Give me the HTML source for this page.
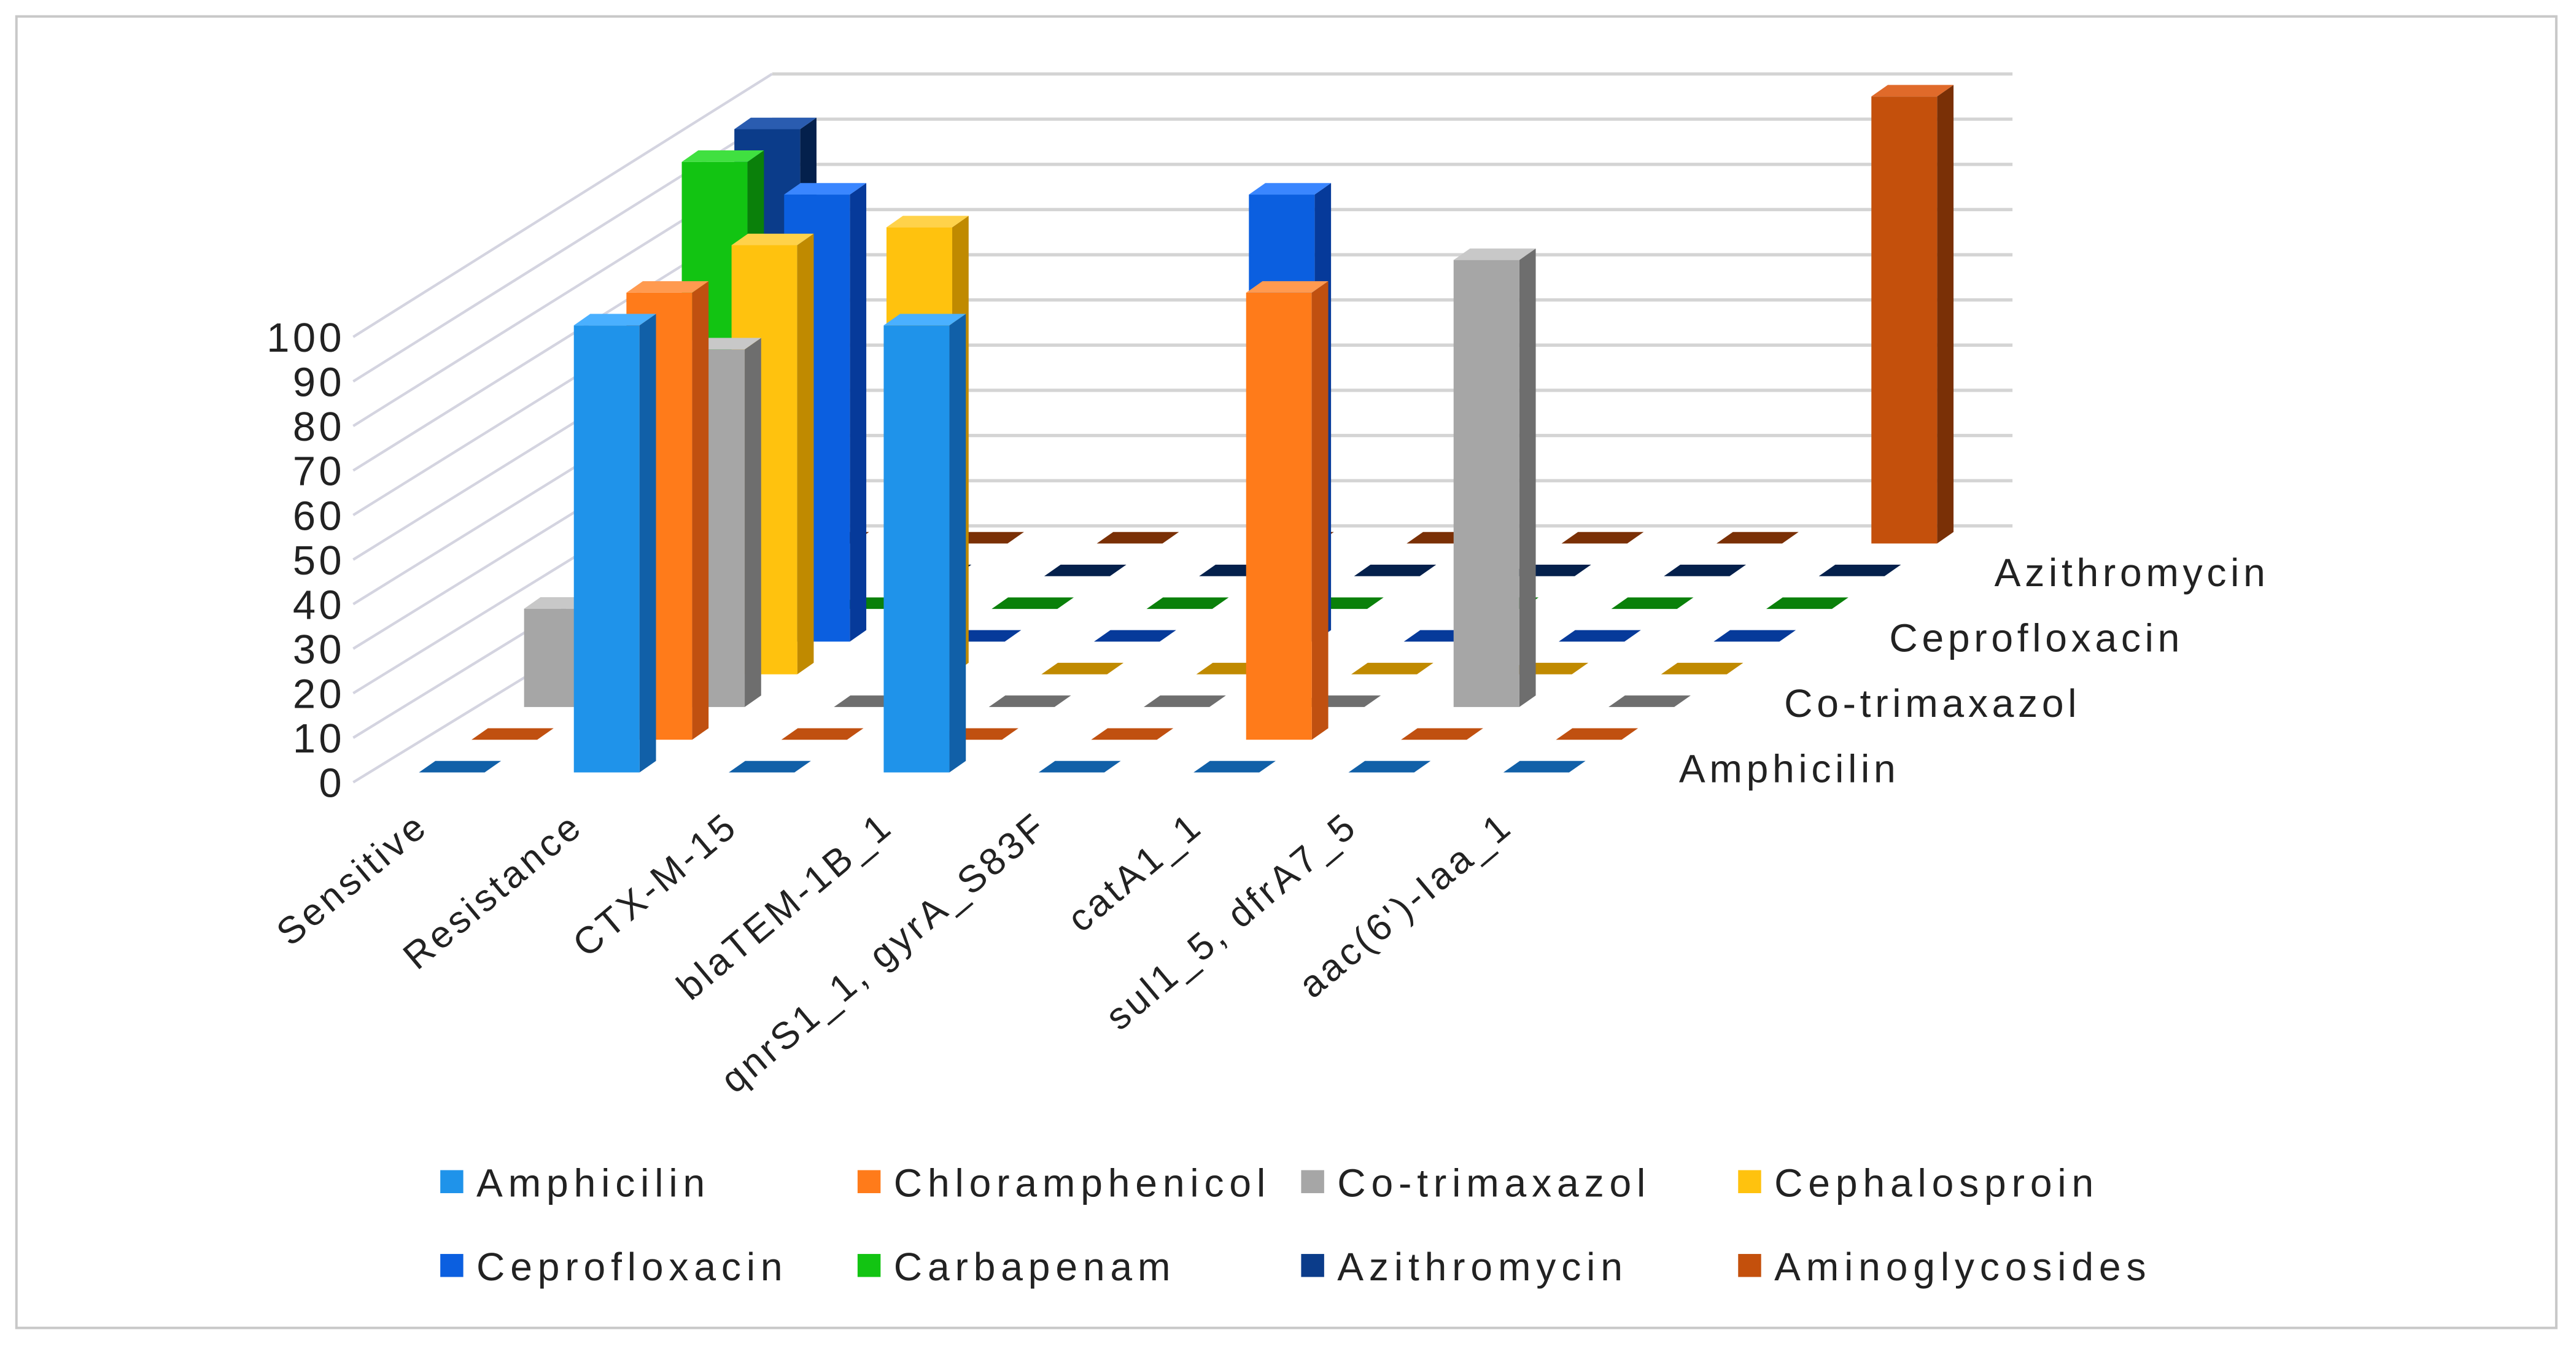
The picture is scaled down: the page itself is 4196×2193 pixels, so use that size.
<!DOCTYPE html>
<html><head><meta charset="utf-8">
<style>
html,body{margin:0;padding:0;background:#fff;}
svg{display:block;}
text{font-family:"Liberation Sans",sans-serif;fill:#222;}
</style></head>
<body>
<svg id="chart" width="4196" height="2193" viewBox="0 0 1568 819" preserveAspectRatio="none" xmlns="http://www.w3.org/2000/svg">
<rect x="10" y="10" width="1546" height="798" fill="#fff" stroke="#c8c8c8" stroke-width="1.5"/>
<g id="walls"></g>
<g id="bars"></g>
<g id="labels"></g>
<g id="legend"></g>
</svg>
<script>
const categories = ["Sensitive","Resistance","CTX-M-15","blaTEM-1B_1","qnrS1_1, gyrA_S83F","catA1_1","sul1_5, dfrA7_5","aac(6')-Iaa_1"];
const seriesNames = ["Amphicilin","Chloramphenicol","Co-trimaxazol","Cephalosproin","Ceprofloxacin","Carbapenam","Azithromycin","Aminoglycosides"];
const amphicilin = [0,100,0,100,0,0,0,0];
const chloramphenicol = [0,100,0,0,0,100,0,0];
const cotrimaxazol = [22,80,0,0,0,0,100,0];
const cephalosporin = [0,96,100,0,0,0,0,0];
const ceprofloxacin = [0,100,0,0,100,0,0,0];
const carbapenam = [100,0,0,0,0,0,0,0];
const azithromycin = [100,0,0,0,0,0,0,0];
const aminoglycosides = [0,0,0,0,0,0,0,100];
const yTicks = [0,10,20,30,40,50,60,70,80,90,100];
const depthLabels = ["Amphicilin","Co-trimaxazol","Ceprofloxacin","Azithromycin"];

const seriesValues = [amphicilin,chloramphenicol,cotrimaxazol,cephalosporin,ceprofloxacin,carbapenam,azithromycin,aminoglycosides];
const colors = ["#1f93ea","#ff7b1a","#a6a6a6","#ffc20e","#0b5fe0","#12c412","#0b3c8a","#c4500c"];
const sides = ["#1160a8","#c05010","#6e6e6e","#c08a00","#063a9a","#0a800a","#04204c","#7a3006"];
const tops = ["#4ab0ff","#ff9a50","#c8c8c8","#ffd24a","#3a86ff","#40e040","#2a5cb0","#e06a2a"];

const NS="http://www.w3.org/2000/svg";
function mk(tag,attrs,parent){const e=document.createElementNS(NS,tag);for(const k in attrs)e.setAttribute(k,attrs[k]);parent.appendChild(e);return e;}
const X0=255, CAT_STEP=94.3, ROW_DX=32, ROW_DY=-19.9, BASE_Y=470, UNIT=2.72;
function xPos(cat,row){return X0+CAT_STEP*cat+ROW_DX*row;}
function yBase(row){return BASE_Y+ROW_DY*row;}
function yVal(v,row){return yBase(row)-UNIT*v;}

const walls=document.getElementById('walls');
yTicks.forEach((t,k)=>{
  const l1=mk('line',{x1:215,y1:476-27.1*k,x2:470,y2:320-27.5*k,stroke:"#d4d4e0","stroke-width":1.6},walls);
  
  
  const l2=mk('line',{x1:470,y1:320-27.5*k,x2:1225,y2:320-27.5*k,stroke:"#d4d4d4","stroke-width":2},walls);
  
  
  const tx=mk('text',{x:210,y:485-27.1*k,"text-anchor":"end","font-size":25,"letter-spacing":2},walls);
  tx.textContent=t;
  
  
});

const bars=document.getElementById('bars');
const W=40, DX=10, DY=-7;
for(let s=7;s>=0;s--){
  for(let c=0;c<categories.length;c++){
    const v=seriesValues[s][c];
    const x=xPos(c,s), yb=yBase(s), yt=yVal(v,s);
    const g=mk('g',{},bars);
    
    
    if(v>0){
      mk('polygon',{points:`${x+W},${yt} ${x+W+DX},${yt+DY} ${x+W+DX},${yb+DY} ${x+W},${yb}`,fill:sides[s]},g);
      mk('rect',{x:x,y:yt,width:W,height:yb-yt,fill:colors[s]},g);
    }
    mk('polygon',{points:`${x},${yt} ${x+DX},${yt+DY} ${x+W+DX},${yt+DY} ${x+W},${yt}`,fill:v>0?tops[s]:sides[s]},g);
  }
}

const labels=document.getElementById('labels');
categories.forEach((c,i)=>{
  const ax=262+CAT_STEP*i, ay=505;
  const t=mk('text',{x:ax,y:ay,"text-anchor":"end","font-size":23,"letter-spacing":2,transform:`rotate(-40 ${ax} ${ay})`},labels);
  t.textContent=c;
  
  
});
depthLabels.forEach((d,i)=>{
  const s=i*2;
  const t=mk('text',{x:1022+ROW_DX*s,y:476+ROW_DY*s,"font-size":24,"letter-spacing":2.5},labels);
  t.textContent=d;
  
  
});

const legend=document.getElementById('legend');
const lx=[268,522,792,1058], ly=[720,771];
seriesNames.forEach((n,i)=>{
  const x=lx[i%4], y=ly[Math.floor(i/4)];
  const g=mk('g',{},legend);
  
  
  mk('rect',{x:x,y:y-8,width:14,height:14,fill:colors[i]},g);
  const t=mk('text',{x:x+22,y:y+8,"font-size":24,"letter-spacing":3.3},g);
  t.textContent=n;
});
</script>
</body></html>
